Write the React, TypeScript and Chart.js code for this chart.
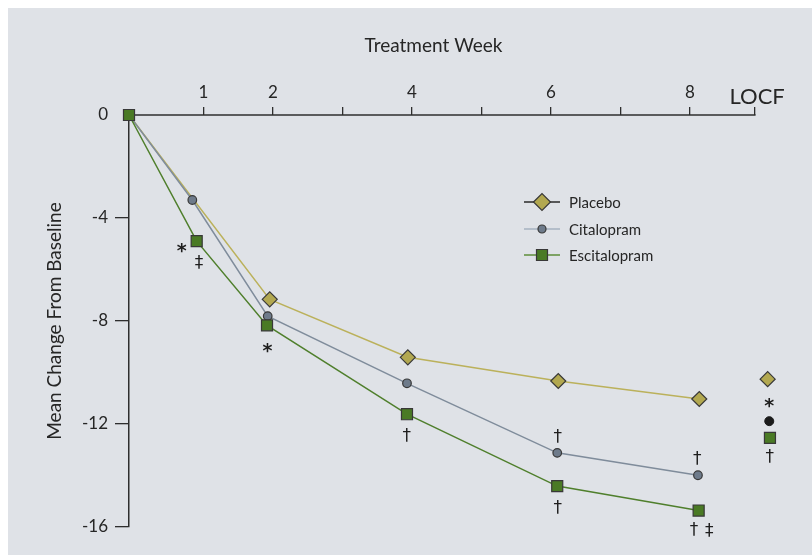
import React, { useEffect, useRef } from 'react';
import { Chart, registerables } from 'chart.js';

Chart.register(...registerables);

// ---- data ----
const seriesNames = ['Placebo', 'Citalopram', 'Escitalopram'];

const placeboWeeks = [-0.072, 1.953, 3.94, 6.105, 8.134];
const placeboValues = [0, -7.16, -9.41, -10.33, -11.03];

const citalopramWeeks = [-0.072, 0.839, 1.924, 3.928, 6.09, 8.115];
const citalopramValues = [0, -3.3, -7.81, -10.42, -13.12, -13.99];

const escitalopramWeeks = [-0.072, 0.902, 1.914, 3.928, 6.09, 8.125];
const escitalopramValues = [0, -4.9, -8.17, -11.62, -14.41, -15.36];

const locfPlaceboWeek = [9.118];
const locfPlaceboValue = [-10.26];
const locfCitalopramWeek = [9.141];
const locfCitalopramValue = [-11.89];
const locfEscitalopramWeek = [9.151];
const locfEscitalopramValue = [-12.54];

const xTickValues = [1, 2, 3, 4, 5, 6, 7, 8];
const xTickLabels = ['1', '2', '', '4', '', '6', '', '8'];
const locfTickValue = 8.935;
const locfLabel = 'LOCF';
const xMin = -0.072;
const xMax = 9.31;

const yTickValues = [0, -4, -8, -12, -16];
const yMin = -16;
const yMax = 0;

const xTitle = 'Treatment Week';
const yTitle = 'Mean Change From Baseline';

// significance symbols: week position, value, symbol
const markWeeks = [0.686, 0.94, 1.92, 3.93, 6.1, 6.1, 8.11, 8.06, 8.28, 9.14, 9.15];
const markValues = [-5.18, -5.72, -9.06, -12.43, -12.47, -15.21, -13.33, -16.09, -16.12, -11.17, -13.24];
const markSymbols = ['*', '‡', '*', '†', '†', '†', '†', '†', '‡', '*', '†'];

// ---- styles ----
const FONT = 'Lato, "Open Sans", "DejaVu Sans", sans-serif';
const TEXT = '#262626';
const AXIS = '#2e2e2e';
const BG = '#dfe2e7';
const MARKER_BORDER = '#383838';

const placeboLine = '#bbb15b';
const placeboFill = '#b2a850';
const citalopramLine = '#7f8c9b';
const citalopramFill = '#6e7b8b';
const escitalopramLine = '#4f7f2c';
const escitalopramFill = '#4a7a25';

const legendLines = ['#2a2a2a', '#a6b2c0', '#5e8e3a'];

function pts(xs: number[], ys: number[]) {
  return xs.map((x, i) => ({ x, y: ys[i] }));
}

function drawCentered(ctx: CanvasRenderingContext2D, text: string, cx: number, cy: number) {
  ctx.textAlign = 'left';
  ctx.textBaseline = 'alphabetic';
  const m = ctx.measureText(text);
  const w = m.actualBoundingBoxRight + m.actualBoundingBoxLeft;
  const h = m.actualBoundingBoxAscent + m.actualBoundingBoxDescent;
  ctx.fillText(text, cx - w / 2 + m.actualBoundingBoxLeft, cy - h / 2 + m.actualBoundingBoxAscent);
}

const overlay = {
  id: 'overlay',
  beforeDatasetsDraw(chart: any) {
    const { ctx, chartArea, scales } = chart;
    const xs = scales.x;
    ctx.save();
    ctx.strokeStyle = AXIS;
    ctx.lineWidth = 1.5;
    ctx.beginPath();
    ctx.moveTo(chartArea.left - 0.75, chartArea.top);
    ctx.lineTo(xs.getPixelForValue(locfTickValue) + 0.65, chartArea.top);
    ctx.stroke();
    ctx.restore();
  },
  afterDatasetsDraw(chart: any) {
    const { ctx, chartArea, scales } = chart;
    const xs = scales.x;
    const ys = scales.y;
    ctx.save();
    ctx.fillStyle = TEXT;

    // x axis title
    ctx.font = `19px ${FONT}`;
    ctx.textAlign = 'center';
    ctx.textBaseline = 'middle';
    ctx.fillText(xTitle, chartArea.left + 304.5, 37.5);

    // LOCF tick label
    ctx.font = `22px ${FONT}`;
    drawCentered(ctx, locfLabel, xs.getPixelForValue(locfTickValue) + 3, chartArea.top - 19);

    // legend
    const rowsY = [194, 221, 247];
    const lx0 = 516, lx1 = 552, mx = 534, tx = 561;
    rowsY.forEach((ry, i) => {
      ctx.strokeStyle = legendLines[i];
      ctx.lineWidth = 1.4;
      ctx.beginPath();
      ctx.moveTo(lx0, ry);
      ctx.lineTo(lx1, ry);
      ctx.stroke();
      ctx.lineWidth = 1.2;
      ctx.strokeStyle = MARKER_BORDER;
      ctx.beginPath();
      if (i === 0) {
        const r = 8.5;
        ctx.moveTo(mx - r, ry);
        ctx.lineTo(mx, ry - r);
        ctx.lineTo(mx + r, ry);
        ctx.lineTo(mx, ry + r);
        ctx.closePath();
        ctx.fillStyle = placeboFill;
      } else if (i === 1) {
        ctx.arc(mx, ry, 4, 0, Math.PI * 2);
        ctx.fillStyle = citalopramFill;
      } else {
        ctx.rect(mx - 5.5, ry - 5.5, 11, 11);
        ctx.fillStyle = escitalopramFill;
      }
      ctx.fill();
      ctx.stroke();
      ctx.fillStyle = TEXT;
      ctx.font = `15px ${FONT}`;
      ctx.textAlign = 'left';
      ctx.textBaseline = 'middle';
      ctx.fillText(seriesNames[i], tx, ry + 1);
    });

    // significance symbols
    markSymbols.forEach((s, i) => {
      const px = xs.getPixelForValue(markWeeks[i]);
      const py = ys.getPixelForValue(markValues[i]);
      ctx.fillStyle = '#1e1e1e';
      if (s === '*') {
        ctx.font = `bold 19px "DejaVu Sans", sans-serif`;
      } else {
        ctx.font = `17px "DejaVu Sans", sans-serif`;
      }
      drawCentered(ctx, s, px, py);
    });
    ctx.restore();
  },
};

export default function App() {
  const ref = useRef<HTMLCanvasElement | null>(null);

  useEffect(() => {
    document.body.style.margin = '8px 0 0 8px';
    document.body.style.overflow = 'hidden';
    if (!ref.current) return;
    const chart = new Chart(ref.current, {
      type: 'line',
      data: {
        datasets: [
          {
            label: 'Escitalopram',
            data: pts(escitalopramWeeks, escitalopramValues),
            borderColor: escitalopramLine,
            borderWidth: 1.5,
            pointStyle: 'rect',
            pointRadius: 7.8,
            pointBackgroundColor: escitalopramFill,
            pointBorderColor: MARKER_BORDER,
            pointBorderWidth: 1.2,
            tension: 0,
            clip: false,
          } as any,
          {
            label: 'Citalopram',
            data: pts(citalopramWeeks, citalopramValues),
            borderColor: citalopramLine,
            borderWidth: 1.5,
            pointStyle: 'circle',
            pointRadius: 4.3,
            pointBackgroundColor: citalopramFill,
            pointBorderColor: MARKER_BORDER,
            pointBorderWidth: 1.2,
            tension: 0,
            clip: false,
          } as any,
          {
            label: 'Placebo',
            data: pts(placeboWeeks, placeboValues),
            borderColor: placeboLine,
            borderWidth: 1.5,
            pointStyle: 'rectRot',
            pointRadius: placeboValues.map((v, i) => (i === 0 ? 0 : 7.5)),
            pointBackgroundColor: placeboFill,
            pointBorderColor: MARKER_BORDER,
            pointBorderWidth: 1.2,
            tension: 0,
            clip: false,
          } as any,
          {
            label: 'LOCF Placebo',
            data: pts(locfPlaceboWeek, locfPlaceboValue),
            showLine: false,
            pointStyle: 'rectRot',
            pointRadius: 7.5,
            pointBackgroundColor: placeboFill,
            pointBorderColor: MARKER_BORDER,
            pointBorderWidth: 1.2,
            clip: false,
          } as any,
          {
            label: 'LOCF Citalopram',
            data: pts(locfCitalopramWeek, locfCitalopramValue),
            showLine: false,
            pointStyle: 'circle',
            pointRadius: 4.5,
            pointBackgroundColor: '#1b1b1b',
            pointBorderColor: '#1b1b1b',
            pointBorderWidth: 1,
            clip: false,
          } as any,
          {
            label: 'LOCF Escitalopram',
            data: pts(locfEscitalopramWeek, locfEscitalopramValue),
            showLine: false,
            pointStyle: 'rect',
            pointRadius: 7.8,
            pointBackgroundColor: escitalopramFill,
            pointBorderColor: MARKER_BORDER,
            pointBorderWidth: 1.2,
            clip: false,
          } as any,
        ],
      },
      options: {
        animation: false,
        responsive: true,
        maintainAspectRatio: false,
        events: [],
        layout: { padding: { left: 0, right: 31, top: 0, bottom: 28 } },
        plugins: {
          legend: { display: false },
          tooltip: { enabled: false },
        },
        scales: {
          x: {
            type: 'linear',
            position: 'top',
            min: xMin,
            max: xMax,
            afterBuildTicks: (s: any) => {
              s.ticks = [...xTickValues, locfTickValue].map((v) => ({ value: v }));
            },
            afterFit: (s: any) => {
              s.height = 107;
            },
            ticks: {
              autoSkip: false,
              maxRotation: 0,
              padding: 4,
              color: TEXT,
              font: { family: FONT, size: 17 },
              callback: (v: any) => {
                const i = xTickValues.indexOf(v);
                return i >= 0 ? xTickLabels[i] : '';
              },
            },
            grid: {
              drawOnChartArea: false,
              tickLength: 8,
              color: AXIS,
              lineWidth: 1.3,
            },
            border: { display: false },
          },
          y: {
            type: 'linear',
            position: 'left',
            min: yMin,
            max: yMax,
            afterBuildTicks: (s: any) => {
              s.ticks = yTickValues.map((v) => ({ value: v }));
            },
            afterFit: (s: any) => {
              s.width = 121;
            },
            ticks: {
              padding: 7,
              color: TEXT,
              font: { family: FONT, size: 17 },
              callback: (v: any) => String(v),
            },
            grid: {
              drawOnChartArea: false,
              tickLength: 14,
              lineWidth: 1.3,
              color: (c: any) => (c.tick && c.tick.value === 0 ? 'rgba(0,0,0,0)' : AXIS),
            },
            border: { display: true, color: AXIS, width: 1.5 },
            title: {
              display: true,
              text: yTitle,
              color: TEXT,
              font: { family: FONT, size: 19 },
              padding: { top: 35, bottom: 0 },
            },
          },
        },
      },
      plugins: [overlay],
    });
    return () => chart.destroy();
  }, []);

  return (
    <div style={{ width: 804, height: 547, position: 'relative', background: BG }}>
      <canvas ref={ref} />
    </div>
  );
}
